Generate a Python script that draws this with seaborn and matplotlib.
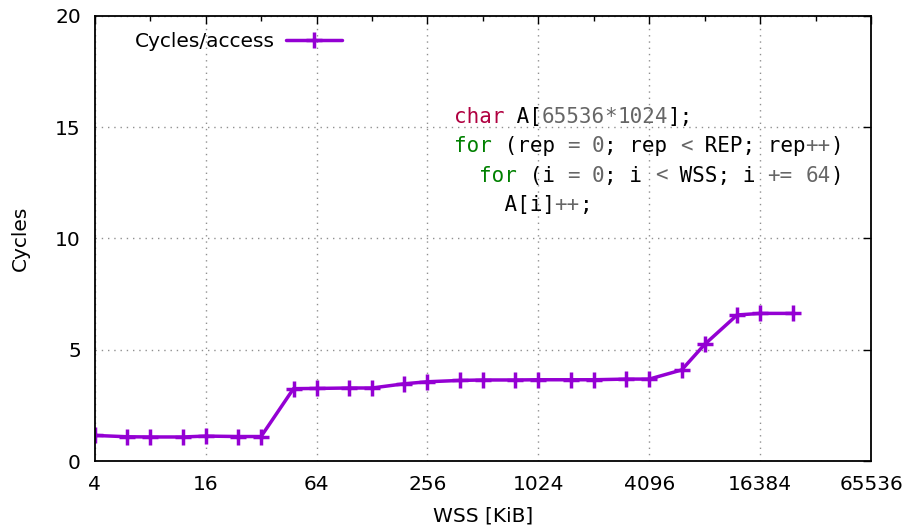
import matplotlib
matplotlib.use('Agg')
import matplotlib.pyplot as plt
import matplotlib.ticker as mticker
import seaborn as sns
import pandas as pd

# data
wss_kib = [4, 6, 8, 12, 16, 24, 32, 48, 64, 96, 128, 192, 256, 384, 512,
           768, 1024, 1536, 2048, 3072, 4096, 6144, 8192, 12288, 16384, 24576]
cycles = [1.15, 1.09, 1.08, 1.08, 1.12, 1.10, 1.10, 3.25, 3.26, 3.28, 3.28,
          3.47, 3.56, 3.62, 3.64, 3.64, 3.65, 3.65, 3.65, 3.68, 3.68, 4.09,
          5.24, 6.56, 6.63, 6.63]
x_ticks = [4, 16, 64, 256, 1024, 4096, 16384, 65536]
y_ticks = [0, 5, 10, 15, 20]

df = pd.DataFrame({'WSS': wss_kib, 'Cycles': cycles})

sns.set_style("white")
plt.rcParams['font.family'] = ['DejaVu Sans']
plt.rcParams['text.color'] = 'black'
plt.rcParams['axes.labelcolor'] = 'black'

fig = plt.figure(figsize=(9.08, 5.29), dpi=100)
ax = fig.add_axes([0.1043, 0.1285, 0.9593 - 0.1043, 0.9703 - 0.1285])

purple = '#9400d3'
sns.lineplot(data=df, x='WSS', y='Cycles', ax=ax, color=purple, linewidth=2.5,
             marker='+', markersize=11, markeredgewidth=2.5, markeredgecolor=purple,
             label='Cycles/access')

ax.set_xscale('log', base=2)
ax.set_xlim(4, 65536)
ax.set_ylim(0, 20)
ax.set_xticks(x_ticks)
ax.set_xticklabels([str(t) for t in x_ticks])
ax.xaxis.set_minor_locator(mticker.FixedLocator([8, 32, 128, 512, 2048, 8192, 32768]))
ax.xaxis.set_minor_formatter(mticker.NullFormatter())
ax.set_yticks(y_ticks)
ax.set_yticklabels([str(t) for t in y_ticks])

ax.grid(True, which='major', linestyle=(0, (1, 3.5)), color='#909090', linewidth=1.0)
ax.tick_params(which='both', direction='in', top=True, right=True, colors='black',
               labelsize=14.5)
ax.tick_params(which='major', length=6, width=1)
ax.tick_params(which='minor', length=3.5, width=1)
ax.tick_params(axis='x', pad=10)
ax.tick_params(axis='y', pad=10)
for s in ax.spines.values():
    s.set_color('black')
    s.set_linewidth(1.3)

ax.set_xlabel('WSS [KiB]', fontsize=14.5, labelpad=9)
ax.set_ylabel('Cycles', fontsize=14.5, labelpad=18)

ax.legend(loc='upper left', bbox_to_anchor=(0.028, 1.005), frameon=False,
          markerfirst=False, fontsize=14.5, handlelength=2.8, handletextpad=0.55)

# code snippet (pygments-like colouring)
kw, ty, gr, bk = '#008000', '#b00040', '#666666', 'black'
code_lines = [
    [('char', ty), (' A[', bk), ('65536', gr), ('*', gr), ('1024', gr), ('];', bk)],
    [('for', kw), (' (rep ', bk), ('=', gr), (' ', bk), ('0', gr), ('; rep ', bk),
     ('<', gr), (' REP; rep', bk), ('++', gr), (')', bk)],
    [('  ', bk), ('for', kw), (' (i ', bk), ('=', gr), (' ', bk), ('0', gr), ('; i ', bk),
     ('<', gr), (' WSS; i ', bk), ('+=', gr), (' ', bk), ('64', gr), (')', bk)],
    [('    A[i]', bk), ('++', gr), (';', bk)],
]
fs_code = 15
char_w = 0.602 * fs_code * 100 / 72  # pixels per char
x0 = 454
y0 = 117
line_h = 29.3
for i, toks in enumerate(code_lines):
    col = 0
    for tok, c in toks:
        if tok.strip():
            fig.text((x0 + col * char_w) / 908, 1 - (y0 + i * line_h) / 529, tok,
                     color=c, fontsize=fs_code, family='DejaVu Sans Mono',
                     ha='left', va='center')
        col += len(tok)

fig.savefig('out.png', dpi=100)
